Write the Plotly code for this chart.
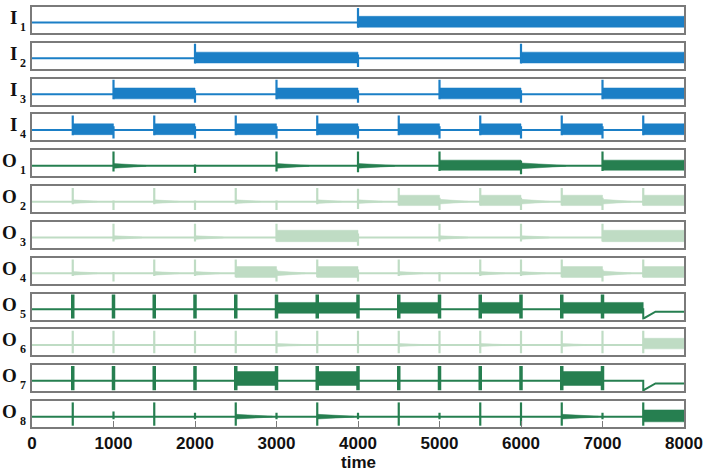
import plotly.graph_objects as go

# ---- data (time in steps, signal level on a 0..1 panel scale) ----
ROWS = ["I1", "I2", "I3", "I4", "O1", "O2", "O3", "O4", "O5", "O6", "O7", "O8"]
X_TICKS = [0, 1000, 2000, 3000, 4000, 5000, 6000, 7000, 8000]
BASE = 0.4

# intervals where the unit oscillates (start, end, low, high)
BANDS = {
    "I1": [(4000, 8000, 0.22, 0.64)],
    "I2": [(2000, 4000, 0.22, 0.64), (6000, 8000, 0.22, 0.64)],
    "I3": [(1000, 2000, 0.22, 0.64), (3000, 4000, 0.22, 0.64), (5000, 6000, 0.22, 0.64),
           (7000, 8000, 0.22, 0.64)],
    "I4": [(500, 1000, 0.22, 0.64), (1500, 2000, 0.22, 0.64), (2500, 3000, 0.22, 0.64),
           (3500, 4000, 0.22, 0.64), (4500, 5000, 0.22, 0.64), (5500, 6000, 0.22, 0.64),
           (6500, 7000, 0.22, 0.64), (7500, 8000, 0.22, 0.64)],
    "O1": [(5000, 6000, 0.23, 0.62), (7000, 8000, 0.23, 0.62)],
    "O2": [(4500, 5000, 0.25, 0.65), (5500, 6000, 0.25, 0.65), (6500, 7000, 0.25, 0.65),
           (7500, 8000, 0.25, 0.65)],
    "O3": [(3000, 4000, 0.24, 0.68), (7000, 8000, 0.24, 0.68)],
    "O4": [(2500, 3000, 0.24, 0.66), (3500, 4000, 0.24, 0.66), (6500, 7000, 0.24, 0.66),
           (7500, 8000, 0.24, 0.66)],
    "O5": [(3000, 4000, 0.24, 0.66), (4500, 5000, 0.24, 0.66), (5500, 6000, 0.24, 0.66),
           (6500, 7500, 0.24, 0.66)],
    "O6": [(7500, 8000, 0.25, 0.66)],
    "O7": [(2500, 3000, 0.22, 0.76), (3500, 4000, 0.22, 0.76), (6500, 7000, 0.22, 0.76)],
    "O8": [(7500, 8000, 0.2, 0.66)],
}

# transient spikes (time, top, bottom)
SPIKES = {
    "I1": [(4000, 0.96, 0.2)],
    "I2": [(2000, 0.96, 0.2), (4000, 0.55, 0.07), (6000, 0.96, 0.2)],
    "I3": [(1000, 0.96, 0.2), (2000, 0.55, 0.07), (3000, 0.96, 0.2), (4000, 0.55, 0.07),
           (5000, 0.96, 0.2), (6000, 0.55, 0.07), (7000, 0.96, 0.2)],
    "I4": [(500, 0.96, 0.2), (1000, 0.55, 0.07), (1500, 0.96, 0.2), (2000, 0.55, 0.07),
           (2500, 0.96, 0.2), (3000, 0.55, 0.07), (3500, 0.96, 0.2), (4000, 0.55, 0.07),
           (4500, 0.96, 0.2), (5000, 0.55, 0.07), (5500, 0.96, 0.2), (6000, 0.55, 0.07),
           (6500, 0.96, 0.2), (7000, 0.55, 0.07), (7500, 0.96, 0.2)],
    "O1": [(1000, 0.95, 0.18), (2000, 0.45, 0.12), (3000, 0.95, 0.18), (4000, 0.95, 0.15),
           (5000, 0.95, 0.2), (6000, 0.6, 0.08), (7000, 0.95, 0.2)],
    "O2": [(500, 0.93, 0.3), (1000, 0.45, 0.08), (1500, 0.93, 0.3), (2000, 0.45, 0.08),
           (2500, 0.93, 0.3), (3000, 0.45, 0.08), (3500, 0.93, 0.3), (4000, 0.9, 0.12),
           (4500, 0.93, 0.25), (5000, 0.55, 0.08), (5500, 0.93, 0.25), (6000, 0.55, 0.08),
           (6500, 0.93, 0.25), (7000, 0.55, 0.08), (7500, 0.93, 0.25)],
    "O3": [(1000, 0.93, 0.25), (2000, 0.93, 0.25), (3000, 0.93, 0.25), (4000, 0.55, 0.08),
           (5000, 0.93, 0.25), (6000, 0.93, 0.25), (7000, 0.93, 0.25)],
    "O4": [(500, 0.93, 0.3), (1000, 0.45, 0.08), (1500, 0.93, 0.3), (2000, 0.93, 0.3),
           (2500, 0.93, 0.25), (3000, 0.55, 0.08), (3500, 0.93, 0.25), (4000, 0.55, 0.08),
           (4500, 0.93, 0.3), (5000, 0.45, 0.08), (5500, 0.93, 0.3), (6000, 0.93, 0.3),
           (6500, 0.93, 0.25), (7000, 0.55, 0.08), (7500, 0.93, 0.25)],
    "O5": [(500, 0.97, 0.04), (1000, 0.97, 0.04), (1500, 0.97, 0.04), (2000, 0.97, 0.04),
           (2500, 0.97, 0.04), (3000, 0.97, 0.04), (3500, 0.97, 0.04), (4000, 0.97, 0.04),
           (4500, 0.97, 0.04), (5000, 0.97, 0.04), (5500, 0.97, 0.04), (6000, 0.97, 0.04),
           (6500, 0.97, 0.04), (7000, 0.97, 0.04)],
    "O6": [(500, 0.95, 0.08), (1000, 0.95, 0.08), (1500, 0.95, 0.08), (2000, 0.95, 0.08),
           (2500, 0.95, 0.08), (3000, 0.95, 0.08), (3500, 0.95, 0.08), (4000, 0.95, 0.08),
           (4500, 0.95, 0.08), (5000, 0.95, 0.08), (5500, 0.95, 0.08), (6000, 0.95, 0.08),
           (6500, 0.95, 0.08), (7000, 0.95, 0.08), (7500, 0.95, 0.08)],
    "O7": [(500, 0.97, 0.04), (1000, 0.97, 0.04), (1500, 0.97, 0.04), (2000, 0.97, 0.04),
           (2500, 0.97, 0.04), (3000, 0.97, 0.04), (3500, 0.97, 0.04), (4000, 0.97, 0.04),
           (4500, 0.97, 0.04), (5000, 0.97, 0.04), (5500, 0.97, 0.04), (6000, 0.97, 0.04),
           (6500, 0.97, 0.04), (7000, 0.97, 0.04)],
    "O8": [(500, 0.95, 0.05), (1000, 0.6, 0.3), (1500, 0.95, 0.05), (2000, 0.55, 0.3),
           (2500, 0.95, 0.05), (3000, 0.55, 0.3), (3500, 0.95, 0.05), (4000, 0.55, 0.3),
           (4500, 0.95, 0.05), (5000, 0.55, 0.3), (5500, 0.95, 0.05), (6000, 0.95, 0.05),
           (6500, 0.95, 0.05), (7000, 0.55, 0.3), (7500, 0.95, 0.05)],
}

# decaying ringing after a spike (start, end, half amplitude)
TAILS = {
    "O1": [(1000, 1400, 0.09), (3000, 3400, 0.09), (4000, 4450, 0.09), (6000, 6550, 0.11)],
    "O2": [(500, 800, 0.07), (1500, 1800, 0.07), (2500, 2800, 0.07), (3500, 3800, 0.07),
           (4000, 4300, 0.07), (5000, 5350, 0.09), (6000, 6350, 0.09), (7000, 7350, 0.09)],
    "O3": [(1000, 1350, 0.07), (2000, 2350, 0.07), (5000, 5350, 0.07), (6000, 6350, 0.07)],
    "O4": [(500, 800, 0.07), (1500, 1800, 0.07), (2000, 2300, 0.07), (3000, 3350, 0.09),
           (4500, 4800, 0.07), (5500, 5800, 0.07), (6000, 6300, 0.07), (7000, 7350, 0.09)],
    "O6": [(3000, 3350, 0.06), (4500, 4800, 0.06), (5500, 5800, 0.06), (6500, 6800, 0.06)],
    "O8": [(2500, 2950, 0.09), (3500, 3950, 0.09), (6500, 6950, 0.09)],
}

# the unit falls silent: (time, floor, time back, new level)
DROPS = {
    "O5": (7500, 0.03, 7650, 0.3),
    "O7": (7500, 0.03, 7650, 0.3),
}

BLUE = "#1b7fc6"
DARK = "#267f50"
LIGHT = "#bfdcc4"
ROW_COLOR = {"I1": BLUE, "I2": BLUE, "I3": BLUE, "I4": BLUE,
             "O1": DARK, "O2": LIGHT, "O3": LIGHT, "O4": LIGHT,
             "O5": DARK, "O6": LIGHT, "O7": DARK, "O8": DARK}
SPIKE_W = {"O5": 3.5, "O7": 3.5}

W, H = 708, 473
ML, MR, MT, MB = 32, 24, 5, 46
PH = H - MT - MB
PITCH, BOXH = 36, 26


def ypaper(px):
    return 1 - (px - MT) / PH


fig = go.Figure()
layout = {}
annotations = []

for i, row in enumerate(ROWS):
    n = i + 1
    xa, ya = ("x" if n == 1 else f"x{n}"), ("y" if n == 1 else f"y{n}")
    col = ROW_COLOR[row]

    # baseline + drop
    drop = DROPS.get(row)
    bx, by = [0, 8000], [BASE, BASE]
    if drop:
        t0, floor, t1, lvl = drop
        bx = [0, t0, t0, t1, 8000]
        by = [BASE, BASE, floor, lvl, lvl]
    fig.add_trace(go.Scatter(x=bx, y=by, mode="lines", line=dict(color=col, width=2),
                             xaxis=xa, yaxis=ya, hoverinfo="skip", showlegend=False))

    # bands and tails as filled shapes
    fx, fy = [], []
    for s, e, lo, hi in BANDS.get(row, []):
        fx += [s, e, e, s, s, None]
        fy += [lo, lo, hi, hi, lo, None]
    for s, e, a in TAILS.get(row, []):
        fx += [s, e, e, s, s, None]
        fy += [BASE + a, BASE + 0.015, BASE - 0.015, BASE - a, BASE + a, None]
    if fx:
        fig.add_trace(go.Scatter(x=fx, y=fy, mode="lines", fill="toself", fillcolor=col,
                                 line=dict(color=col, width=0.5), xaxis=xa, yaxis=ya,
                                 hoverinfo="skip", showlegend=False))

    # spikes
    sx, sy = [], []
    for t, top, bot in SPIKES.get(row, []):
        sx += [t, t, None]
        sy += [bot, top, None]
    if sx:
        fig.add_trace(go.Scatter(x=sx, y=sy, mode="lines",
                                 line=dict(color=col, width=SPIKE_W.get(row, 2.2)),
                                 xaxis=xa, yaxis=ya, hoverinfo="skip", showlegend=False))

    top_px = MT + PITCH * i
    dom = [ypaper(top_px + BOXH), ypaper(top_px)]
    last = n == len(ROWS)
    xkey = "xaxis" if n == 1 else f"xaxis{n}"
    ykey = "yaxis" if n == 1 else f"yaxis{n}"
    layout[xkey] = dict(
        domain=[0, 1], anchor=ya, range=[0, 8000], showgrid=False, zeroline=False,
        showline=True, mirror=True, linecolor="#7a7a7a", linewidth=1.5,
        tickvals=X_TICKS, showticklabels=last,
        ticks="inside" if last else "", ticklen=6, tickcolor="#7a7a7a",
        tickfont=dict(family="Liberation Sans", size=17, color="#111111", weight="bold"),
        ticklabelstandoff=0,
    )
    if n > 1:
        layout[xkey]["matches"] = "x"
    layout[ykey] = dict(
        domain=dom, anchor=xa, range=[0, 1], showgrid=False, zeroline=False,
        showline=True, mirror=True, linecolor="#7a7a7a", linewidth=1.5,
        showticklabels=False, ticks="",
    )

    # row label: letter + subscript
    cy = top_px + BOXH / 2
    annotations.append(dict(
        text=f"<b>{row[0]}</b>", xref="paper", yref="paper",
        x=(18.5 - ML) / 652, y=ypaper(cy - 2.5), xanchor="right", yanchor="middle",
        showarrow=False, font=dict(family="Liberation Serif", size=19, color="#111111"),
    ))
    annotations.append(dict(
        text=f"<b>{row[1]}</b>", xref="paper", yref="paper",
        x=(18 - ML) / 652, y=ypaper(cy + 7), xanchor="left", yanchor="middle",
        showarrow=False, font=dict(family="Liberation Serif", size=12, color="#111111"),
    ))

annotations.append(dict(
    text="<b>time</b>", xref="paper", yref="paper", x=0.5, y=ypaper(463),
    xanchor="center", yanchor="middle", showarrow=False,
    font=dict(family="Liberation Sans", size=17, color="#111111"),
))

fig.update_layout(
    width=W, height=H, margin=dict(l=ML, r=MR, t=MT, b=MB),
    paper_bgcolor="white", plot_bgcolor="white",
    annotations=annotations, **layout,
)

# page body margin would shift the fixed-size figure
fig.write_html("out.html", config={"displayModeBar": False},
               post_script="document.body.style.margin='0';")
